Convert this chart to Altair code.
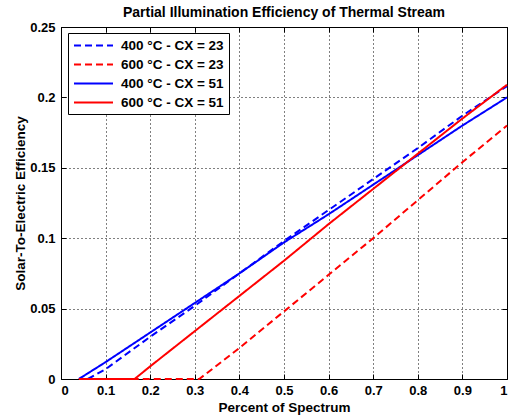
import altair as alt
import pandas as pd

FONT = "Liberation Sans"

series = ["400 °C - CX = 23", "600 °C - CX = 23", "400 °C - CX = 51", "600 °C - CX = 51"]
colors = ["#0000ff", "#ff0000", "#0000ff", "#ff0000"]
dashes = [[7, 4], [7, 4], [1, 0], [1, 0]]

x_400_23 = [0.06, 0.1, 0.2, 0.3, 0.4, 0.5, 0.6, 0.7, 0.8, 0.9, 1.0]
y_400_23 = [0.0, 0.007, 0.030, 0.052, 0.075, 0.098, 0.120, 0.142, 0.164, 0.187, 0.208]

x_600_23 = [0.06, 0.31, 0.4, 0.5, 0.6, 0.7, 0.8, 0.9, 1.0]
y_600_23 = [0.0, 0.0, 0.022, 0.048, 0.074, 0.100, 0.127, 0.154, 0.180]

x_400_51 = [0.04, 0.1, 0.2, 0.3, 0.4, 0.5, 0.6, 0.7, 0.8, 0.9, 1.0]
y_400_51 = [0.0, 0.012, 0.033, 0.054, 0.075, 0.097, 0.117, 0.138, 0.159, 0.180, 0.200]

x_600_51 = [0.04, 0.165, 0.2, 0.3, 0.4, 0.5, 0.6, 0.7, 0.8, 0.9, 1.0]
y_600_51 = [0.0, 0.0, 0.009, 0.034, 0.059, 0.084, 0.110, 0.135, 0.160, 0.185, 0.209]

x_ticks = [0, 0.1, 0.2, 0.3, 0.4, 0.5, 0.6, 0.7, 0.8, 0.9, 1.0]
y_ticks = [0, 0.05, 0.1, 0.15, 0.2, 0.25]

rows = []
for name, xs, ys in zip(series,
                        [x_400_23, x_600_23, x_400_51, x_600_51],
                        [y_400_23, y_600_23, y_400_51, y_600_51]):
    for i, (a, b) in enumerate(zip(xs, ys)):
        rows.append({"series": name, "x": a, "y": b, "order": i})
df = pd.DataFrame(rows)

xscale = alt.Scale(domain=[0, 1], nice=False, zero=False)
yscale = alt.Scale(domain=[0, 0.25], nice=False, zero=False)

legend = alt.Legend(
    orient="none", legendX=7, legendY=6, title=None,
    symbolType="M-1,0H5", symbolSize=169, symbolStrokeWidth=2,
    labelFont=FONT, labelFontSize=13.5, labelFontWeight="bold", labelColor="black",
    labelOffset=33, padding=5, rowPadding=5,
    strokeColor="black", fillColor="white",
)

AX = dict(labelFont=FONT, labelFontSize=13, labelFontWeight="bold", labelColor="black",
          titleFont=FONT, titleFontSize=13.5, titleFontWeight="bold", titleColor="black",
          tickColor="black", tickWidth=1, tickSize=5, ticks=True, domain=False, offset=-5)

lines = alt.Chart(df).mark_line(strokeWidth=2, clip=False).encode(
    x=alt.X("x:Q", scale=xscale, title="Percent of Spectrum",
            axis=alt.Axis(values=x_ticks, format="~g", orient="bottom",
                          labelPadding=5, titlePadding=3, grid=True,
                          gridColor="black", gridDash=[1, 3], gridOpacity=1, gridWidth=1, **AX)),
    y=alt.Y("y:Q", scale=yscale, title="Solar-To-Electric Efficiency",
            axis=alt.Axis(values=y_ticks, format="~g", orient="left",
                          labelPadding=6, titlePadding=2, grid=True,
                          gridColor="black", gridDash=[1, 3], gridOpacity=1, gridWidth=1, **AX)),
    color=alt.Color("series:N", scale=alt.Scale(domain=series, range=colors), legend=legend),
    strokeDash=alt.StrokeDash("series:N", scale=alt.Scale(domain=series, range=dashes), legend=legend),
    order="order:Q",
)

frame_ticks = alt.Chart(df).mark_point(opacity=0, size=1).encode(
    x=alt.X("x:Q", scale=xscale,
            axis=alt.Axis(values=x_ticks, orient="top", labels=False, title=None, grid=False, **AX)),
    y=alt.Y("y:Q", scale=yscale,
            axis=alt.Axis(values=y_ticks, orient="right", labels=False, title=None, grid=False, **AX)),
)

chart = alt.layer(lines, frame_ticks).resolve_axis(x="independent", y="independent").properties(
    width=446, height=352,
    background="white",
    title=alt.TitleParams("Partial Illumination Efficiency of Thermal Stream",
                          font=FONT, fontSize=14, fontWeight="bold", color="black",
                          anchor="middle", offset=1),
    autosize=alt.AutoSizeParams(type="none"),
    padding={"left": 61, "top": 27, "right": 1, "bottom": 40},
).configure_view(
    stroke="black", strokeWidth=1
)

chart.save("out.html", embed_options={"renderer": "svg", "actions": False})
